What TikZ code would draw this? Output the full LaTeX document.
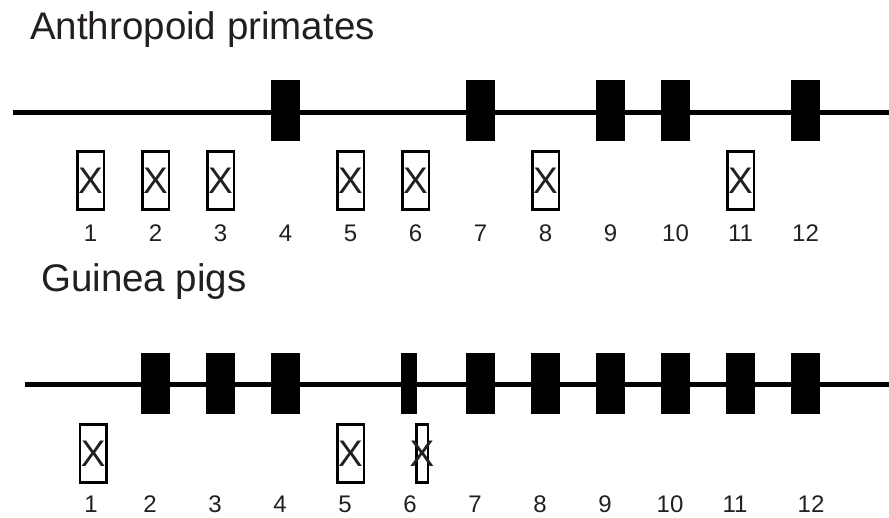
\documentclass[tikz,border=0pt]{standalone}
\usepackage{fontspec}
\setmainfont{Liberation Sans}
\usepackage{tikz}
\usetikzlibrary{positioning}
\definecolor{ink}{RGB}{35,31,32}
\tikzstyle{exon} = [rectangle, fill=black, minimum width=29pt, minimum height=61pt, inner sep=0pt]
\tikzstyle{slim} = [rectangle, fill=black, minimum width=15.7pt, minimum height=61pt, inner sep=0pt]
\tikzstyle{xmark} = [font=\fontsize{37}{37}\selectfont, text=ink, inner sep=0pt]
\tikzstyle{lost} = [rectangle, draw=black, line width=2.5pt, minimum width=26.5pt, minimum height=58pt, inner sep=0pt, label={[xmark]center:X}]
\tikzstyle{lostslim} = [lost, minimum width=11.5pt]
\tikzstyle{num} = [font=\fontsize{24}{24}\selectfont, text=ink, inner sep=0pt]
\tikzstyle{title} = [font=\fontsize{38.5}{38.5}\selectfont, text=ink, inner sep=0pt, anchor=base west]
\tikzstyle{gene} = [line width=5pt]

\begin{document}
\begin{tikzpicture}[x=1pt, y=-1pt, node distance=65pt]
		\useasboundingbox (0,0) rectangle (889,518);
		
		% anthropoid primates
		\node (tprim) [title] at (30,39.5) {Anthropoid primates};
		\coordinate (pa) at (13,112.5);
		\coordinate (pb) at (889,112.5);
		\draw [gene] (pa) -- (pb);
		
		\node (pe4) [exon] at (285.5,111) {};
		\node (pe7) [exon, right of=pe4, xshift=130pt] {};
		\node (pe9) [exon, right of=pe7, xshift=65pt] {};
		\node (pe10) [exon, right of=pe9] {};
		\node (pe12) [exon, right of=pe10, xshift=65pt] {};
		
		\node (px1) [lost] at (90.5,180.5) {};
		\node (px2) [lost, right of=px1] {};
		\node (px3) [lost, right of=px2] {};
		\node (px5) [lost, right of=px3, xshift=65pt] {};
		\node (px6) [lost, right of=px5] {};
		\node (px8) [lost, right of=px6, xshift=65pt] {};
		\node (px11) [lost, right of=px8, xshift=130pt] {};
		
		\node (pn1) [num] at (90.5,233.3) {1};
		\node (pn2) [num, right of=pn1] {2};
		\node (pn3) [num, right of=pn2] {3};
		\node (pn4) [num, right of=pn3] {4};
		\node (pn5) [num, right of=pn4] {5};
		\node (pn6) [num, right of=pn5] {6};
		\node (pn7) [num, right of=pn6] {7};
		\node (pn8) [num, right of=pn7] {8};
		\node (pn9) [num, right of=pn8] {9};
		\node (pn10) [num, right of=pn9] {10};
		\node (pn11) [num, right of=pn10] {11};
		\node (pn12) [num, right of=pn11] {12};
		
		% guinea pigs
		\node (tpig) [title] at (41,291.5) {Guinea pigs};
		\coordinate (ga) at (25,385);
		\coordinate (gb) at (889,385);
		\draw [gene] (ga) -- (gb);
		
		\node (ge2) [exon] at (155.5,384) {};
		\node (ge3) [exon, right of=ge2] {};
		\node (ge4) [exon, right of=ge3] {};
		\node (ge6) [slim] at (408.8,384) {};
		\node (ge7) [exon, right of=ge4, xshift=130pt] {};
		\node (ge8) [exon, right of=ge7] {};
		\node (ge9) [exon, right of=ge8] {};
		\node (ge10) [exon, right of=ge9] {};
		\node (ge11) [exon, right of=ge10] {};
		\node (ge12) [exon, right of=ge11] {};
		
		\node (gx1) [lost] at (93.3,453.5) {};
		\node (gx5) [lost] at (350.5,453.5) {};
		\node (gx6) [lostslim] at (422,453.5) {};
		
		\node (gn1) [num] at (91,504.4) {1};
		\node (gn2) [num, right of=gn1, xshift=-6pt] {2};
		\node (gn3) [num, right of=gn2] {3};
		\node (gn4) [num, right of=gn3] {4};
		\node (gn5) [num, right of=gn4] {5};
		\node (gn6) [num, right of=gn5] {6};
		\node (gn7) [num, right of=gn6] {7};
		\node (gn8) [num, right of=gn7] {8};
		\node (gn9) [num, right of=gn8] {9};
		\node (gn10) [num, right of=gn9] {10};
		\node (gn11) [num, right of=gn10] {11};
		\node (gn12) [num, right of=gn11, xshift=11pt] {12};
		
		\end{tikzpicture}
\end{document}
